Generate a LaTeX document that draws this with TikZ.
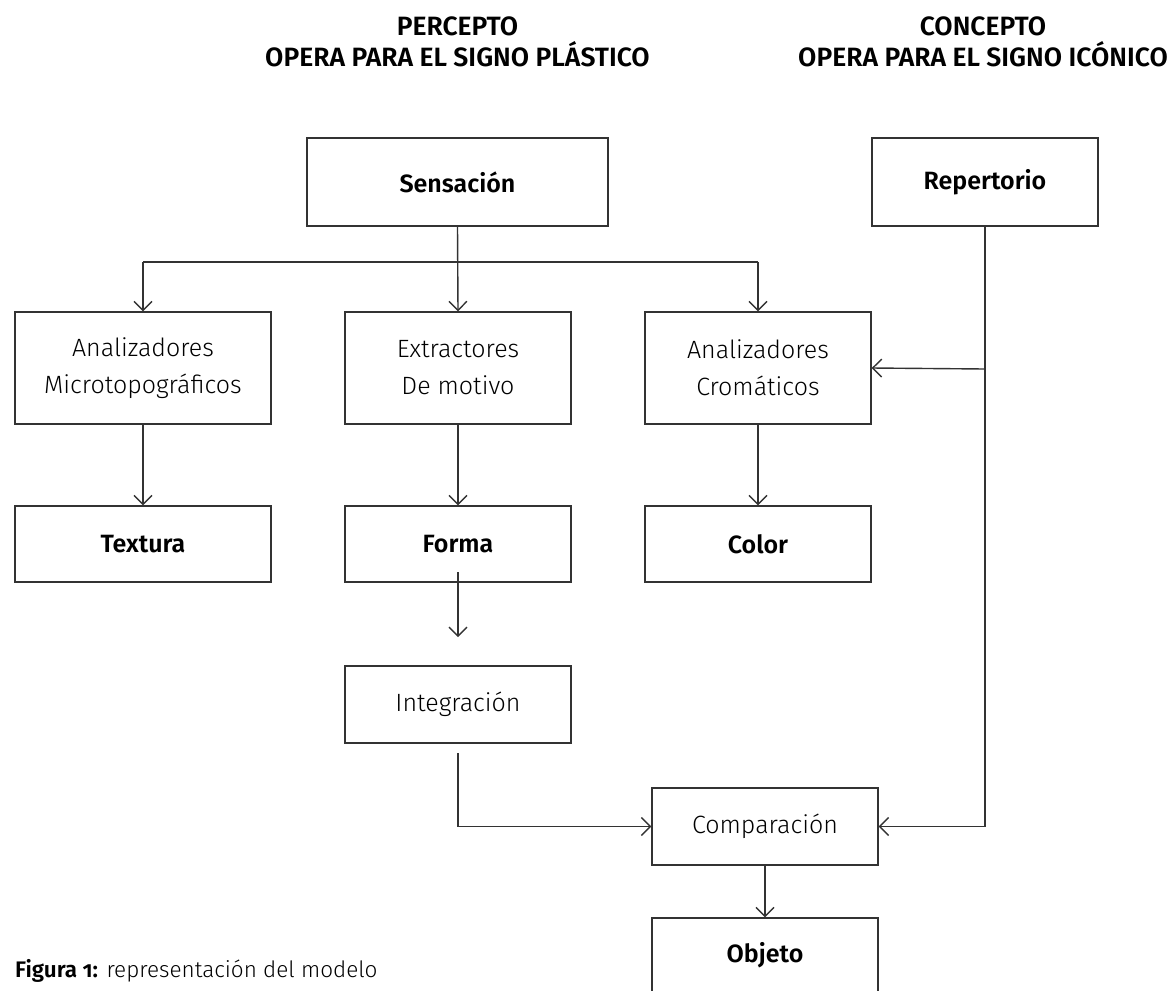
\documentclass[tikz,border=0pt]{standalone}
\usepackage{fontspec}
\setmainfont{Fira Sans}[UprightFont={* Light}, BoldFont={* SemiBold}]
\usetikzlibrary{arrows.meta}
\definecolor{ln}{HTML}{333333}
\tikzset{
  box/.style={draw=ln, line width=1.4pt, rectangle, inner sep=0pt, align=center, font=\fontsize{25}{37}\selectfont},
  arr/.style={draw=ln, line width=1.4pt, -{Straight Barb[length=9pt,width=18pt,line width=1.4pt]}},
  ln/.style={draw=ln, line width=1.4pt},
  ttl/.style={align=center, font=\fontsize{26.5}{31}\selectfont\bfseries}
}
\begin{document}
\begin{tikzpicture}[x=1pt,y=-1pt]
\useasboundingbox (0,0) rectangle (1176,991);
% titles
\node[ttl] (t1) at (457.5,42) {PERCEPTO\\OPERA PARA EL SIGNO PLÁSTICO};
\node[ttl] (t2) at (983,42) {CONCEPTO\\OPERA PARA EL SIGNO ICÓNICO};
% boxes
\node[box, minimum width=301pt, minimum height=88pt] (sens) at (457.5,182) {\bfseries Sensación};
\node[box, minimum width=226pt, minimum height=88pt] (rep) at (985,182) {\bfseries Repertorio};
\node[box, minimum width=256pt, minimum height=112pt] (am) at (143,368) {Analizadores\\Microtopográficos};
\node[box, minimum width=226pt, minimum height=112pt] (ext) at (458,368) {Extractores\\De motivo};
\node[box, minimum width=226pt, minimum height=112pt] (ac) at (758,368) {Analizadores\\Cromáticos};
\node[box, minimum width=256pt, minimum height=76pt] (tex) at (143,544) {\bfseries Textura};
\node[box, minimum width=226pt, minimum height=76pt] (forma) at (458,544) {\bfseries Forma};
\node[box, minimum width=226pt, minimum height=76pt] (color) at (758,544) {\bfseries Color};
\node[box, minimum width=226pt, minimum height=77pt] (integ) at (458,704.5) {Integración};
\node[box, minimum width=226pt, minimum height=77pt] (comp) at (765,826.5) {Comparación};
\node[box, minimum width=226pt, minimum height=75pt] (obj) at (765,955.5) {\bfseries Objeto};
% caption
\node[anchor=base west, inner sep=0pt, font=\fontsize{22.5}{26}\selectfont\addfontfeatures{Numbers=OldStyle}] (cap) at (15,977) {\textbf{Figura 1:} representación del modelo};
% connectors
\coordinate (hl) at (143,262);
\coordinate (hr) at (758,262);
\coordinate (rj) at (985,369);
\coordinate (rb) at (985,826.5);
\coordinate (f1) at (458,572);
\coordinate (f2) at (458,637);
\coordinate (i1) at (458,753);
\draw[arr] (sens.south) -- (ext.north);
\draw[ln] (hl) -- (hr);
\draw[arr] (hl) -- (am.north);
\draw[arr] (hr) -- (ac.north);
\draw[ln] (rep.south) -- (rb);
\draw[arr] (rj) -- (ac.east);
\draw[arr] (rb) -- (comp.east);
\draw[arr] (am.south) -- (tex.north);
\draw[arr] (ext.south) -- (forma.north);
\draw[arr] (ac.south) -- (color.north);
\draw[arr] (f1) -- (f2);
\draw[arr] (i1) |- (comp.west);
\draw[arr] (comp.south) -- (obj.north);
\end{tikzpicture}
\end{document}
